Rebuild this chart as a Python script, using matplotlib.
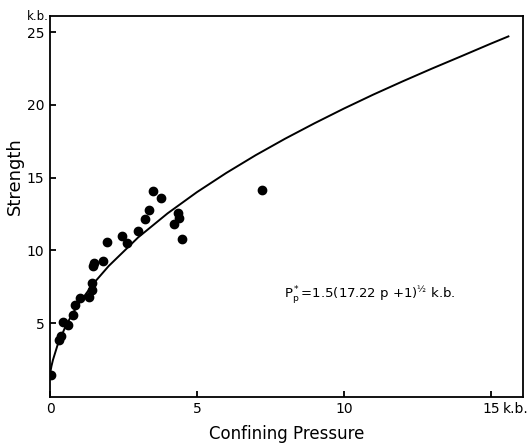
import numpy as np
import matplotlib.pyplot as plt

# measured points (confining pressure, strength), k.b.
pressure = [0.05, 0.32, 0.37, 0.43, 0.62, 0.79, 0.85, 1.02, 1.34, 1.42, 1.42,
            1.47, 1.51, 1.81, 1.93, 2.44, 2.61, 3.0, 3.23, 3.37, 3.51, 3.77,
            4.23, 4.34, 4.40, 4.48, 7.2]
strength = [1.45, 3.85, 4.15, 5.1, 4.9, 5.55, 6.25, 6.75, 6.8, 7.3, 7.75,
            8.9, 9.1, 9.3, 10.55, 11.0, 10.5, 11.3, 12.15, 12.8, 14.05, 13.6,
            11.8, 12.6, 12.2, 10.75, 14.15]

# fitted curve
curve_p = [0, 0.05, 0.1, 0.25, 0.5, 0.75, 1, 1.5, 2, 3, 4, 5, 6, 7, 8, 9,
           10, 11, 12, 13, 14, 15, 15.6]
curve_s = [1.5, 2.05, 2.47, 3.45, 4.65, 5.6, 6.4, 7.77, 8.93, 10.89, 12.54,
           14.0, 15.32, 16.54, 17.67, 18.73, 19.74, 20.7, 21.61, 22.49, 23.34,
           24.2, 24.7]

xticks = [0, 5, 10, 15]
yticks = [5, 10, 15, 20, 25]

plt.rcParams['font.family'] = ['Liberation Sans Narrow', 'DejaVu Sans']
plt.rcParams['mathtext.default'] = 'regular'

fig = plt.figure(figsize=(5.28, 4.45), dpi=100)
ax = fig.add_axes([0.0947, 0.108, 0.896, 0.856])

ax.plot(curve_p, curve_s, color='black', lw=1.4)
ax.scatter(pressure, strength, s=36, color='black', zorder=3)

ax.set_xlim(0, 16.1)
ax.set_ylim(-0.07, 26.1)
ax.set_xticks(xticks)
ax.set_yticks(yticks)
ax.set_xticklabels([str(t) for t in xticks])
ax.tick_params(direction='in', length=4, width=1.3, labelsize=10, pad=4)
for s in ax.spines.values():
    s.set_linewidth(1.3)

ax.set_xlabel('Confining Pressure', fontsize=12, labelpad=6)
ax.set_ylabel('Strength', fontsize=13)
ax.yaxis.set_label_coords(-0.055, 0.58)

ax.text(15.4, -0.013, 'k.b.', fontsize=10, ha='left', va='top',
        transform=ax.get_xaxis_transform(), clip_on=False)
ax.text(-0.42, 26.05, 'k.b.', fontsize=8.5, ha='center', va='center', clip_on=False)

ax.text(7.95, 6.9, r'$P^*_p$=1.5(17.22 p +1)$^{½}$ k.b.', fontsize=9.5,
        ha='left', va='center')

fig.savefig('out.png', dpi=100)
